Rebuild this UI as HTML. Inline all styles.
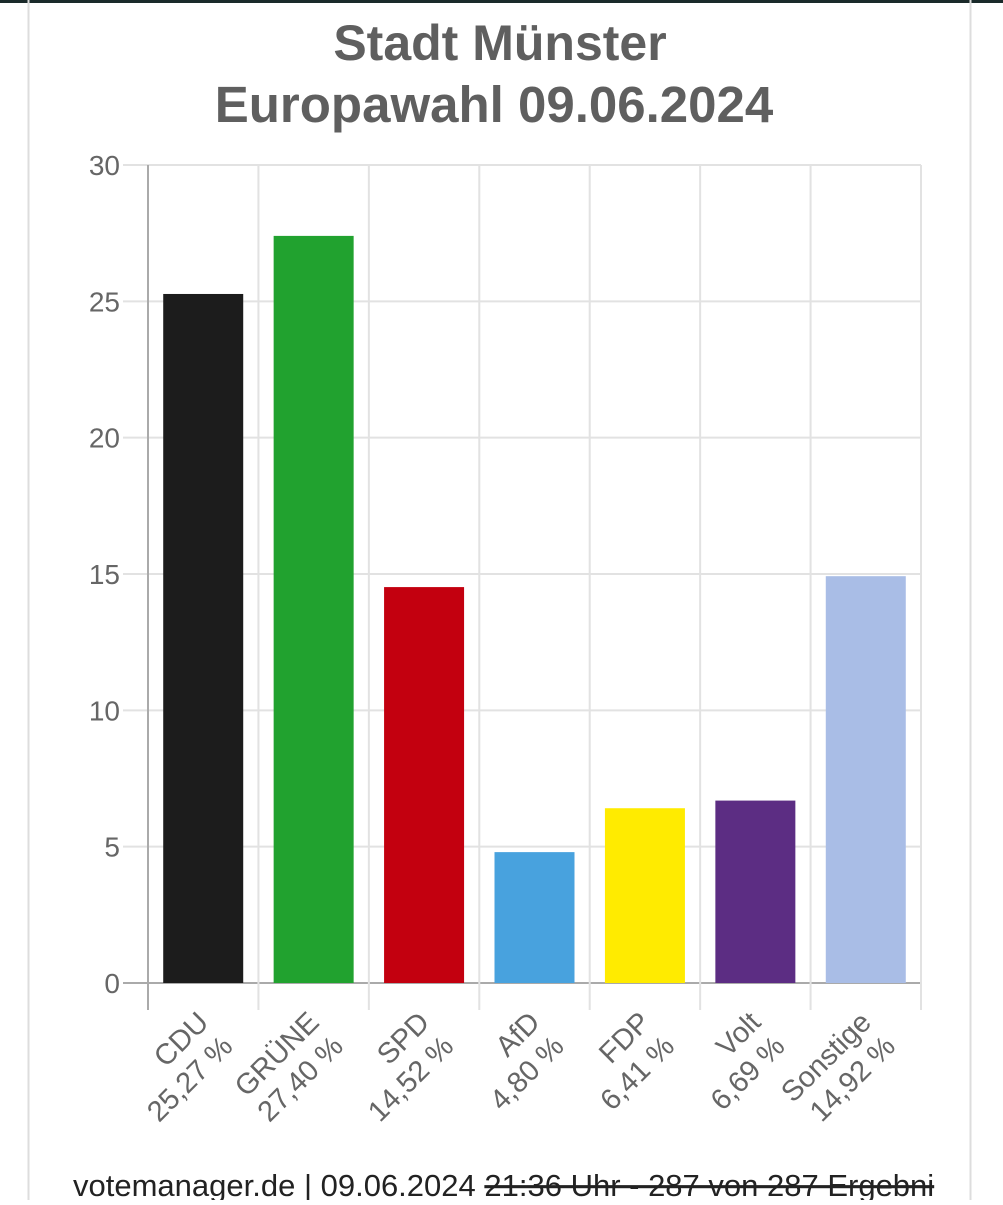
<!DOCTYPE html>
<html><head><meta charset="utf-8"><style>
body{margin:0;width:1003px;height:1200px;background:#fff;overflow:hidden;font-family:"Liberation Sans",Arial,sans-serif;}
</style></head><body>
<svg width="1003" height="1200" xmlns="http://www.w3.org/2000/svg">
<rect x="0" y="0" width="1003" height="3" fill="#1a2a2a"/>
<line x1="28.5" y1="0" x2="28.5" y2="1200" stroke="#ddd" stroke-width="2"/>
<line x1="970.5" y1="0" x2="970.5" y2="1200" stroke="#ddd" stroke-width="2"/>
<text x="500" y="60" text-anchor="middle" font-size="50" font-weight="bold" fill="#5f5f5f">Stadt Münster</text>
<text x="494" y="122" text-anchor="middle" font-size="51" font-weight="bold" fill="#5f5f5f">Europawahl 09.06.2024</text>
<g id="grid"></g><g id="bars"></g><g id="labels"></g>
<text x="73" y="1196" font-size="31" fill="#222">votemanager.de | 09.06.2024 <tspan text-decoration="line-through">21:36 Uhr - 287 von 287 Ergebni</tspan></text>
</svg>
<script>
const categories=["CDU","GRÜNE","SPD","AfD","FDP","Volt","Sonstige"];
const values=[25.27,27.40,14.52,4.80,6.41,6.69,14.92];
const valueLabels=["25,27 %","27,40 %","14,52 %","4,80 %","6,41 %","6,69 %","14,92 %"];
const colors=["#1c1c1c","#21a22f","#c3000f","#48a2de","#ffeb00","#5c2d83","#a9bde6"];
const yTicks=[0,5,10,15,20,25,30];
const NS="http://www.w3.org/2000/svg";
const x0=148,x1=921,y0=983,y1=165,yMax=30;
const bw=(x1-x0)/categories.length;
const y=v=>y0-(v/yMax)*(y0-y1);
const xc=i=>x0+bw*(i+0.5);
function mk(t,a,p){const e=document.createElementNS(NS,t);for(const k in a)e.setAttribute(k,a[k]);p.appendChild(e);return e;}
const grid=document.getElementById('grid'),bars=document.getElementById('bars'),labels=document.getElementById('labels');
yTicks.forEach(t=>{
 const l=mk('line',{x1:x0-25,x2:x1,y1:y(t),y2:y(t),stroke:t===0?'#aaa':'#e2e2e2','stroke-width':2},grid);
 
 
 const tx=mk('text',{x:x0-28,y:y(t)+10,'text-anchor':'end','font-size':28,fill:'#666'},grid);
 tx.textContent=t;
 
 
});
for(let i=0;i<=categories.length;i++){
 const gx=x0+bw*i;
 const l=mk('line',{x1:gx,x2:gx,y1:y1,y2:y0+27,stroke:i===0?'#aaa':'#e2e2e2','stroke-width':2},grid);
 
 
}
categories.forEach((c,i)=>{
 const r=mk('rect',{x:xc(i)-40,y:y(values[i]),width:80,height:y0-y(values[i]),fill:colors[i]},bars);
 
 
 const ax=xc(i)+7,ay=1024;
 const t=mk('text',{transform:`translate(${ax},${ay}) rotate(-45)`,'text-anchor':'end','font-size':29,fill:'#666'},labels);
 
 
 const s1=mk('tspan',{x:0,y:0},t);s1.textContent=c;
 const s2=mk('tspan',{x:0,y:34},t);s2.textContent=valueLabels[i];
});
</script>
</body></html>
